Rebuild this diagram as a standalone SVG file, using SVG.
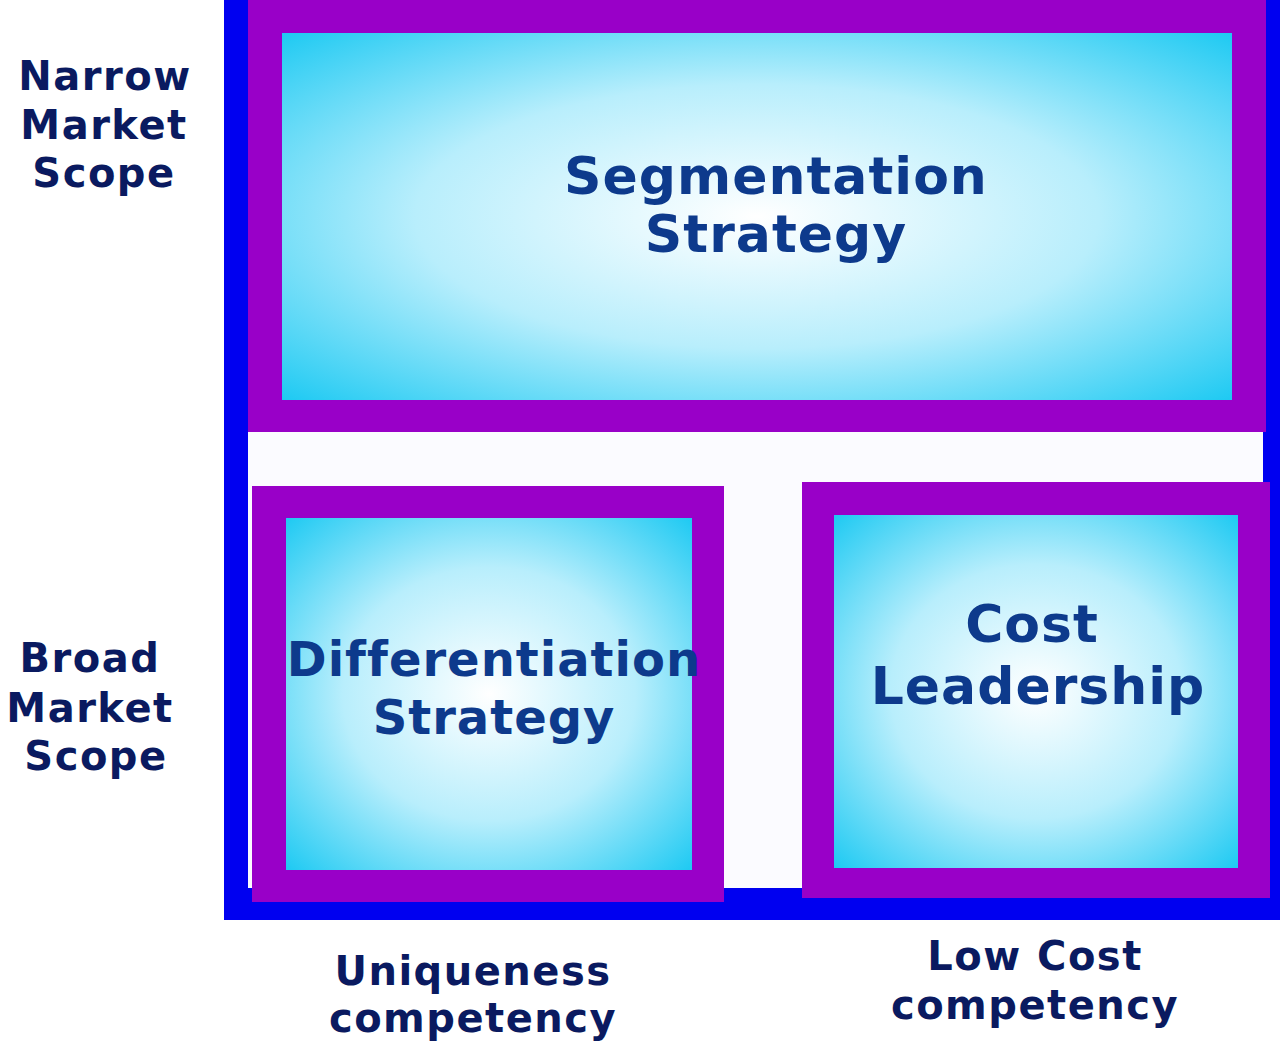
<svg xmlns="http://www.w3.org/2000/svg" width="1280" height="1043" viewBox="0 0 1280 1043">
<defs>
<radialGradient id="g" cx="50%" cy="50%" r="72%">
<stop offset="0" stop-color="#ffffff"/>
<stop offset="0.5" stop-color="#b8eefc"/>
<stop offset="1" stop-color="#18c8f2"/>
</radialGradient>
<style>
.p{fill:#9900c8}
.c{fill:url(#g)}
.t{font-family:"DejaVu Sans",Verdana,sans-serif;font-weight:bold;fill:#0d3a8c;text-anchor:middle;letter-spacing:1px}
.l{font-family:"DejaVu Sans",Verdana,sans-serif;font-weight:bold;fill:#0a1a60;text-anchor:middle;font-size:40px;letter-spacing:1.5px}
</style>
</defs>
<rect width="1280" height="1043" fill="#fff"/>
<rect x="224" y="0" width="1056" height="920" fill="#0000f0"/>
<rect x="248" y="0" width="1015" height="888" fill="#fbfbff"/>
<g id="segmentation">
<rect class="p" x="248" y="0" width="1018" height="432"/>
<rect class="c" x="282" y="33" width="950" height="367"/>
<text class="t" font-size="52" x="776" y="194">Segmentation</text>
<text class="t" font-size="52" x="776" y="252">Strategy</text>
</g>
<g id="differentiation">
<rect class="p" x="252" y="486" width="472" height="416"/>
<rect class="c" x="286" y="518" width="406" height="352"/>
<text class="t" font-size="48" x="494" y="676">Differentiation</text>
<text class="t" font-size="48" x="494" y="734">Strategy</text>
</g>
<g id="cost">
<rect class="p" x="802" y="482" width="468" height="416"/>
<rect class="c" x="834" y="515" width="404" height="353"/>
<text class="t" font-size="52" x="1032" y="642">Cost</text>
<text class="t" font-size="52" x="1038" y="704">Leadership</text>
</g>
<g id="labels">
<text class="l" x="105" y="90">Narrow</text>
<text class="l" x="104" y="139">Market</text>
<text class="l" x="104" y="187">Scope</text>
<text class="l" x="90" y="672">Broad</text>
<text class="l" x="90" y="722">Market</text>
<text class="l" x="96" y="770">Scope</text>
<text class="l" x="473" y="985">Uniqueness</text>
<text class="l" x="473" y="1032">competency</text>
<text class="l" x="1035" y="970">Low Cost</text>
<text class="l" x="1035" y="1019">competency</text>
</g>
<g id="connectors"/>
</svg>
